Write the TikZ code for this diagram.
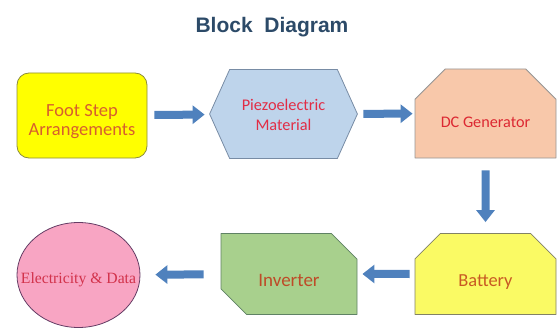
\documentclass[tikz,border=0pt]{standalone}
\usepackage{fontspec}
\setmainfont{Carlito}
\newfontfamily\titlefont{Liberation Sans}
\newfontfamily\seriffont{Liberation Serif}
\usetikzlibrary{shapes.geometric,shapes.misc,arrows.meta,backgrounds}
\tikzset{>=latex}
\definecolor{titleblue}{RGB}{44,74,104}
\definecolor{arrowblue}{RGB}{79,129,189}
\definecolor{footfill}{RGB}{255,255,0}
\definecolor{footedge}{RGB}{140,140,60}
\definecolor{foottext}{RGB}{215,95,45}
\definecolor{piezofill}{RGB}{190,212,235}
\definecolor{piezoedge}{RGB}{120,140,165}
\definecolor{piezotext}{RGB}{225,45,70}
\definecolor{dcfill}{RGB}{248,200,170}
\definecolor{dcedge}{RGB}{150,150,150}
\definecolor{dctext}{RGB}{220,40,50}
\definecolor{battfill}{RGB}{250,250,100}
\definecolor{battedge}{RGB}{130,130,100}
\definecolor{batttext}{RGB}{200,90,35}
\definecolor{invfill}{RGB}{168,208,141}
\definecolor{invedge}{RGB}{95,130,100}
\definecolor{invtext}{RGB}{190,75,40}
\definecolor{elecfill}{RGB}{248,165,195}
\definecolor{elecedge}{RGB}{100,60,100}
\definecolor{electext}{RGB}{210,50,75}

\begin{document}
\begin{tikzpicture}[x=1pt, y=-1pt, line join=round,
    block/.style={draw, line width=0.8pt, inner sep=0pt, align=center, text depth=0pt},
    snipped/.style={block, chamfered rectangle, chamfered rectangle xsep=#1, chamfered rectangle ysep=#1},
    flow/.style={draw=arrowblue, line width=8pt, -{Triangle[length=12pt,width=18pt]}}]
    \useasboundingbox (0,0) rectangle (557,329);
    \node[font=\titlefont\bfseries\fontsize{21}{24}\selectfont, text=titleblue] (title) at (272,27) {Block\ \ Diagram};

    \node[block, rounded corners=12pt, minimum width=130pt, minimum height=85pt, fill=footfill, draw=footedge, text=foottext, text height=39pt, font=\fontsize{18.5}{18}\selectfont] (foot) at (82,115.5) {Foot Step\\Arrangements};
    \node[block, draw=none, minimum width=147pt, minimum height=88pt, text=piezotext, text height=32pt, font=\fontsize{16.3}{20}\selectfont] (piezo) at (283.5,114) {Piezoelectric\\Material};
    \begin{scope}[on background layer]
        \draw[fill=piezofill, draw=piezoedge, line width=0.8pt] (piezo.west) -- ([xshift=20pt]piezo.north west) -- ([xshift=-20pt]piezo.north east) -- (piezo.east) -- ([xshift=-20pt]piezo.south east) -- ([xshift=20pt]piezo.south west) -- cycle;
    \end{scope}
    \node[snipped=16pt, chamfered rectangle corners={north west,north east}, minimum width=141pt, minimum height=89pt, fill=dcfill, draw=dcedge, text=dctext, text height=28.4pt, font=\fontsize{16.2}{20}\selectfont] (dc) at (485.5,113.5) {DC Generator};

    \node[snipped=13pt, chamfered rectangle corners={north west,north east}, minimum width=141pt, minimum height=81pt, fill=battfill, draw=battedge, text=batttext, text height=24.8pt, font=\fontsize{18.4}{20}\selectfont] (battery) at (485.5,274) {Battery};
    \node[snipped=13pt, chamfered rectangle corners={north east,south west}, minimum width=136pt, minimum height=81pt, fill=invfill, draw=invedge, text=invtext, text height=25.2pt, font=\fontsize{19}{20}\selectfont] (inverter) at (289,274) {Inverter};
    \node[block, ellipse, minimum width=123pt, minimum height=105pt, fill=elecfill, draw=elecedge, text=electext, text height=16.4pt, font=\seriffont\fontsize{15.7}{18}\selectfont] (elec) at (78.5,275) {\makebox[0pt]{Electricity \& Data}};

    \draw[flow, shorten <=7pt, shorten >=5pt] (foot) -- (piezo);
    \draw[flow, shorten <=6pt, shorten >=2pt] (piezo) -- (dc);
    \draw[flow, shorten <=12pt, shorten >=11pt] (dc) -- (battery);
    \draw[flow, shorten <=5pt, shorten >=5pt] (battery) -- (inverter);
    \draw[flow, shorten <=17pt, shorten >=15pt] (inverter) -- (elec);
\end{tikzpicture}
\end{document}
